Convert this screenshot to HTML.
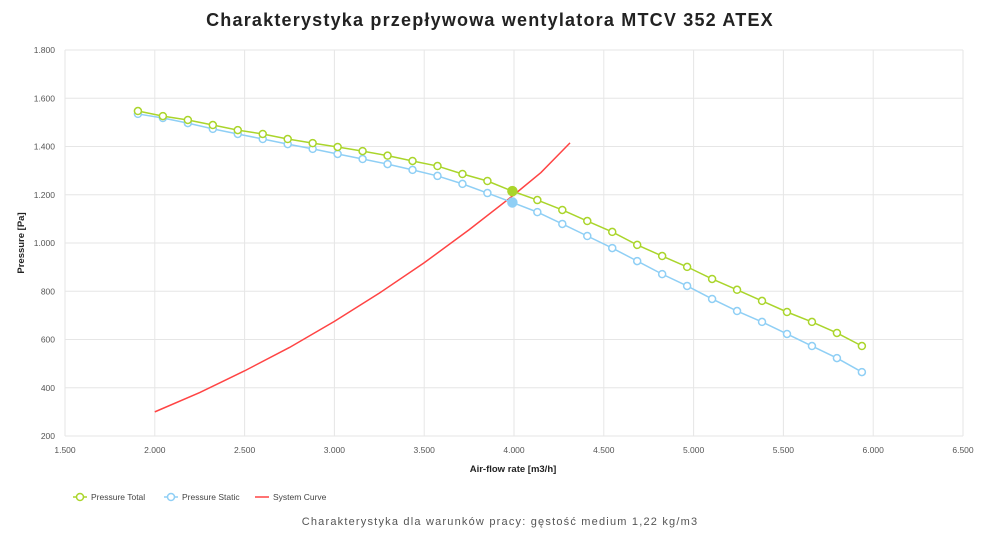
<!DOCTYPE html>
<html><head><meta charset="utf-8"><style>
body{margin:0;background:#fff;width:1000px;height:541px;overflow:hidden;font-family:"Liberation Sans",sans-serif}
</style></head><body>
<svg id="c" width="1000" height="541" xmlns="http://www.w3.org/2000/svg">
<text x="490" y="26" text-anchor="middle" font-size="18" font-weight="bold" letter-spacing="1.2" fill="#222">Charakterystyka przepływowa wentylatora MTCV 352 ATEX</text>
<text x="500" y="525" text-anchor="middle" font-size="11" letter-spacing="1.2" fill="#555">Charakterystyka dla warunków pracy: gęstość medium 1,22 kg/m3</text>
<g id="grid"></g><g id="series"></g>
<text x="513" y="472" text-anchor="middle" font-size="9.5" font-weight="bold" fill="#222">Air-flow rate [m3/h]</text>
<text transform="translate(24,243) rotate(-90)" text-anchor="middle" font-size="9.5" font-weight="bold" fill="#222">Pressure [Pa]</text>
<g>
<g><line x1="73" y1="497" x2="87" y2="497" stroke="#aad52b" stroke-width="1.5"/><circle cx="80" cy="497" r="3.5" fill="#fff" stroke="#aad52b" stroke-width="1.5"/><text x="91" y="500" font-size="8.5" fill="#444">Pressure Total</text></g>
<g><line x1="164" y1="497" x2="178" y2="497" stroke="#8fcff5" stroke-width="1.5"/><circle cx="171" cy="497" r="3.5" fill="#fff" stroke="#8fcff5" stroke-width="1.5"/><text x="182" y="500" font-size="8.5" fill="#444">Pressure Static</text></g>
<g><line x1="255" y1="497" x2="269" y2="497" stroke="#f44" stroke-width="1.5"/><text x="273" y="500" font-size="8.5" fill="#444">System Curve</text></g>
</g>
</svg>
<script>
const xTicks=[1500,2000,2500,3000,3500,4000,4500,5000,5500,6000,6500];
const yTicks=[200,400,600,800,1000,1200,1400,1600,1800];
const flow=[1906,2045,2184,2323,2462,2601,2740,2879,3018,3157,3296,3435,3574,3713,3852,3991,4130,4269,4408,4547,4686,4825,4964,5103,5242,5381,5520,5659,5798,5937];
const total=[1547,1526,1510,1489,1468,1452,1431,1414,1398,1381,1362,1340,1319,1286,1257,1215,1178,1137,1091,1046,992,946,901,851,806,760,714,673,627,573];
const stat=[1535,1518,1497,1473,1452,1431,1410,1390,1369,1348,1327,1303,1278,1245,1207,1168,1128,1079,1029,979,925,871,822,768,718,673,623,573,523,465];
const sysFlow=[2000,2250,2500,2750,3000,3250,3500,3750,4000,4150,4312];
const sysP=[300,380,470,567,675,792,918,1055,1200,1292,1415];
const highlightIndex=15;
const X=v=>65+(v-1500)/5000*898, Y=v=>436-(v-200)/1600*386;
const NS='http://www.w3.org/2000/svg';
function mk(t,a,p){const e=document.createElementNS(NS,t);for(const k in a)e.setAttribute(k,a[k]);p.appendChild(e);return e;}
const g=document.getElementById('grid'),s=document.getElementById('series');
xTicks.forEach(v=>{const l=mk('line',{x1:X(v),x2:X(v),y1:50,y2:436,stroke:'#e6e6e6'},g);


const t=mk('text',{x:X(v),y:453,'text-anchor':'middle','font-size':'8.5',fill:'#555'},g);t.textContent=(v/1000).toFixed(3);

});
yTicks.forEach(v=>{const l=mk('line',{x1:65,x2:963,y1:Y(v),y2:Y(v),stroke:'#e6e6e6'},g);


const t=mk('text',{x:55,y:Y(v)+3,'text-anchor':'end','font-size':'8.5',fill:'#555'},g);t.textContent=v>=1000?(v/1000).toFixed(3):String(v);

});
const sp=mk('polyline',{points:sysFlow.map((q,i)=>X(q)+','+Y(sysP[i])).join(' '),fill:'none',stroke:'#f44','stroke-width':1.5},s);


[[stat,'#8fcff5','static'],[total,'#aad52b','total']].forEach(([d,c,n])=>{
const pl=mk('polyline',{points:flow.map((q,i)=>X(q)+','+Y(d[i])).join(' '),fill:'none',stroke:c,'stroke-width':1.5},s);


flow.forEach((q,i)=>{const h=i===highlightIndex;const p=mk('circle',{cx:X(q),cy:Y(d[i]),r:h?4.5:3.5,fill:h?c:'#fff',stroke:c,'stroke-width':1.5},s);

});});
</script>
</body></html>
